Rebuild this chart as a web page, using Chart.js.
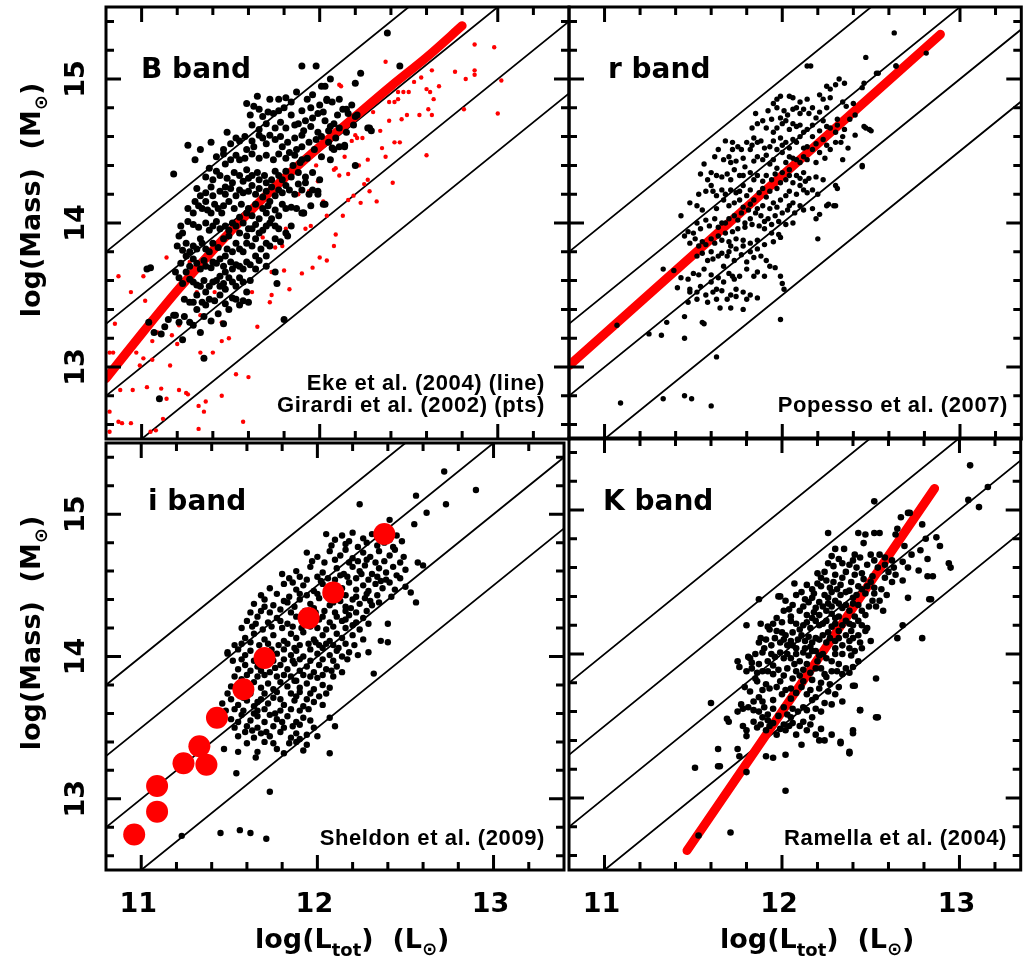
<!DOCTYPE html>
<html><head><meta charset="utf-8">
<script src="https://cdn.jsdelivr.net/npm/chart.js@4.4.0/dist/chart.umd.min.js"></script>
<style>
html,body{margin:0;padding:0;background:#fff;width:1024px;height:965px;overflow:hidden;}
canvas{position:absolute;}
</style></head><body>
<canvas id="pB"></canvas><canvas id="pR"></canvas><canvas id="pI"></canvas><canvas id="pK"></canvas>
<script>
// ---------- axis ticks ----------
const xMajorTicks = [11, 12, 13];
const xMinorTicks = [11.2,11.4,11.6,11.8,12.2,12.4,12.6,12.8,13.2];
const yMajorTicks = [13, 14, 15];
const yMinorTicks = [12.6,12.8,13.2,13.4,13.6,13.8,14.2,14.4,14.6,14.8,15.2,15.4];
const xTickLabels = ['11','12','13'];
const yTickLabels = ['13','14','15'];
// constant mass-to-light lines: log M = log L + offset
const mlOffsets = [3, 2.5, 2, 1.5];

// ---------- B band ----------
const bandBClusters = [
[12.23,15.04],[12.06,15.0],[12.03,14.95],[12.2,14.97],[11.96,14.89],[11.87,14.91],[11.81,14.87],[11.77,14.86],[11.72,14.86],[12.04,14.85],[12.07,14.84],[11.59,14.83],[11.63,14.81],[11.61,14.75],[11.68,14.74],[11.74,14.76],[11.77,14.78],[12.18,14.82],[12.16,14.76],[12.21,14.75],[11.99,14.76],[11.96,14.73],[11.92,14.71],[11.88,14.69],[11.86,14.68],[11.81,14.66],[12.03,14.71],[12.08,14.69],[12.11,14.66],[12.05,14.64],[12.01,14.6],[12.14,14.54],[12.11,14.53],[12.08,14.51],[12.28,14.66],[12.29,14.64],[11.48,14.63],[11.53,14.59],[11.55,14.57],[11.46,14.51],[11.26,14.54],[11.33,14.51],[11.39,14.56],[11.3,14.44],[11.18,14.34],[11.38,14.38],[11.42,14.36],[11.47,14.41],[11.55,14.44],[11.59,14.51],[11.63,14.53],[11.68,14.59],[11.72,14.61],[11.75,14.58],[11.79,14.53],[11.83,14.49],[11.87,14.51],[11.9,14.53],[11.94,14.56],[11.97,14.51],[11.93,14.45],[11.89,14.42],[11.85,14.4],[11.81,14.36],[11.77,14.33],[11.73,14.3],[11.7,14.28],[11.66,14.3],[11.62,14.33],[11.59,14.37],[11.55,14.33],[11.51,14.28],[11.47,14.25],[11.44,14.22],[11.4,14.19],[11.36,14.15],[11.33,14.19],[11.3,14.15],[11.32,14.12],[11.34,14.1],[11.39,14.07],[11.43,14.1],[11.46,14.12],[11.49,14.15],[11.53,14.19],[11.57,14.21],[11.6,14.22],[11.64,14.2],[11.68,14.18],[11.72,14.15],[11.75,14.19],[11.79,14.21],[11.83,14.23],[11.88,14.27],[11.92,14.28],[11.96,14.23],[11.99,14.2],[12.02,14.13],[11.91,14.07],[11.87,14.1],[11.81,14.1],[11.77,14.05],[11.73,14.03],[11.7,14.07],[11.66,14.03],[11.62,14.05],[11.59,14.07],[11.55,14.04],[11.51,14.0],[11.47,13.98],[11.44,13.96],[11.4,13.98],[11.36,14.0],[11.29,13.99],[11.23,13.93],[11.21,13.91],[11.25,13.86],[11.29,13.84],[11.33,13.89],[11.36,13.82],[11.4,13.86],[11.46,13.89],[11.49,13.91],[11.55,13.93],[11.59,13.91],[11.62,13.96],[11.66,13.93],[11.7,13.98],[11.75,13.98],[11.81,13.93],[11.82,13.91],[11.75,13.89],[11.7,13.86],[11.64,13.89],[11.59,13.86],[11.55,13.82],[11.51,13.8],[11.47,13.77],[11.44,13.75],[11.4,13.73],[11.36,13.7],[11.33,13.68],[11.29,13.75],[11.25,13.77],[11.19,13.66],[11.21,13.62],[11.25,13.66],[11.29,13.59],[11.33,13.56],[11.36,13.52],[11.4,13.59],[11.44,13.63],[11.47,13.66],[11.51,13.68],[11.55,13.7],[11.59,13.73],[11.64,13.68],[11.55,13.62],[11.51,13.59],[11.47,13.54],[11.44,13.56],[11.38,13.47],[11.34,13.45],[11.31,13.4],[11.27,13.45],[11.18,13.36],[11.21,13.31],[11.29,13.29],[11.33,13.24],[11.13,13.28],[11.11,13.23],[11.04,13.31],[11.55,13.43],[11.59,13.52],[11.53,13.47],[11.49,13.4],[11.64,13.77],[11.7,13.77],[11.75,13.66],[11.8,13.33],
[12.38,15.32],[12.45,15.09],[11.9,15.09],[11.98,15.09],[11.05,13.69],[11.1,12.78],[11.03,13.68],[11.07,13.24],[11.35,13.06],[11.23,13.19],[11.19,13.36],[11.76,13.58],[11.6,13.45],[11.91,14.07],[11.99,14.22],[12.01,14.95],[12.04,14.86],[12.11,14.86],[12.15,14.79],[12.2,14.74],[12.27,14.66],[12.14,14.53],[12.07,14.52],[12.2,14.4],[12.03,14.13],[11.9,14.07]
];
const bandBCore = [
[11.65,14.88],[11.84,14.84],[11.93,14.86],[12.0,14.82],
[11.66,14.79],[11.71,14.77],[11.8,14.8],[11.84,14.75],[11.9,14.78],[11.95,14.8],[12.02,14.77],[12.1,14.75],[12.13,14.79],
[11.62,14.68],[11.66,14.65],[11.7,14.69],[11.75,14.66],[11.78,14.7],[11.91,14.64],[11.95,14.67],[11.99,14.63],[12.06,14.67],[12.15,14.63],[12.19,14.68],
[11.5,14.55],[11.58,14.6],[11.62,14.57],[11.66,14.61],[11.7,14.55],[11.78,14.6],[11.82,14.56],[11.86,14.59],[11.9,14.61],[11.98,14.58],[12.05,14.56],[12.09,14.59],
[11.42,14.46],[11.46,14.48],[11.5,14.44],[11.53,14.47],[11.58,14.45],[11.62,14.48],[11.66,14.45],[11.7,14.47],[11.74,14.44],[11.77,14.48],[11.81,14.45],[11.86,14.47],[11.9,14.44],[12.01,14.46],[12.06,14.44],
[11.36,14.32],[11.4,14.3],[11.44,14.33],[11.48,14.31],[11.52,14.35],[11.57,14.29],[11.6,14.31],[11.65,14.35],[11.69,14.33],[11.75,14.36],[11.79,14.3],[11.84,14.32],[11.88,14.35],[11.92,14.32],[11.96,14.35],[12.0,14.3],
[11.31,14.24],[11.36,14.21],[11.39,14.25],[11.47,14.2],[11.5,14.24],[11.55,14.23],[11.62,14.26],[11.66,14.24],[11.7,14.22],[11.73,14.25],[11.77,14.23],[11.81,14.26],[11.86,14.2],[11.9,14.23],[11.94,14.2],
[11.26,14.1],[11.29,14.07],[11.37,14.09],[11.41,14.13],[11.45,14.07],[11.52,14.1],[11.56,14.13],[11.6,14.1],[11.64,14.13],[11.68,14.1],[11.71,14.12],[11.75,14.09],[11.79,14.13],[11.84,14.11],[11.95,14.12],
[11.22,13.98],[11.26,14.01],[11.32,13.97],[11.38,13.95],[11.42,14.01],[11.49,13.95],[11.53,13.98],[11.57,14.0],[11.6,13.96],[11.64,13.99],[11.68,13.95],[11.72,14.0],[11.77,13.96],[11.84,13.98],
[11.2,13.84],[11.23,13.81],[11.27,13.8],[11.31,13.82],[11.34,13.86],[11.38,13.8],[11.43,13.83],[11.48,13.82],[11.53,13.86],[11.57,13.8],[11.62,13.84],[11.67,13.82],[11.72,13.84],[11.78,13.87],
[11.22,13.72],[11.27,13.7],[11.31,13.72],[11.35,13.74],[11.39,13.69],[11.42,13.72],[11.46,13.7],[11.5,13.73],[11.53,13.71],[11.57,13.68],[11.61,13.71],[11.66,13.74],[11.7,13.7],
[11.23,13.58],[11.27,13.61],[11.31,13.57],[11.35,13.6],[11.38,13.56],[11.42,13.6],[11.46,13.58],[11.49,13.62],[11.53,13.56],[11.57,13.59],[11.61,13.6],
[11.24,13.47],[11.29,13.45],[11.31,13.5],[11.36,13.43],[11.41,13.46],[11.44,13.5],[11.47,13.44],[11.51,13.48],[11.57,13.46],
[11.15,13.33],[11.24,13.35],[11.27,13.31],[11.35,13.35],[11.39,13.32],[11.43,13.37],[11.46,13.3]
];
const bandBGirardi = [
[12.87,15.24],[12.98,15.22],[12.87,15.06],[12.87,15.03],[12.82,15.0],[12.76,15.05],[13.02,14.99],[12.81,14.79],[13.0,14.76],[12.6,14.93],[12.57,15.01],[12.63,15.06],[12.37,15.12],[12.12,14.95],[12.44,14.91],[12.47,14.91],[12.5,14.91],[12.62,14.91],[12.64,14.86],[12.67,14.95],[12.44,14.86],[12.39,14.84],[12.49,14.75],[12.56,14.75],[12.61,14.79],[12.63,14.75],[12.46,14.72],[12.39,14.71],[12.42,14.56],[12.45,14.56],[12.37,14.46],[12.6,14.47],[12.41,14.28],[12.32,14.15],[12.27,14.44],[12.22,14.4],[12.24,14.59],[12.2,14.61],[12.14,14.46],[12.09,14.38],[12.11,14.33],[12.16,14.34],[12.19,14.19],[12.25,14.27],[12.23,14.14],[11.98,14.4],[11.99,14.29],[11.94,14.22],[11.88,14.2],[12.04,14.05],[12.09,13.92],[12.08,13.84],[12.04,13.74],[11.92,13.96],[11.9,13.65],[11.81,13.96],[11.79,13.84],[11.75,13.83],[11.68,13.9],[11.73,13.66],[11.8,13.67],[11.62,13.52],[11.72,13.45],[11.65,13.28],[11.49,13.2],[11.45,13.31],[11.33,13.36],[11.31,13.52],[11.41,13.52],[11.51,13.59],[11.19,13.5],[11.21,13.29],[11.06,13.18],[11.01,13.63],[10.87,13.63],[10.94,13.52],[11.14,13.76],[11.27,13.73],[11.6,12.93],[11.53,12.95],[11.57,12.62],[11.45,12.8],[11.32,12.73],[11.36,12.76],[11.21,12.84],[11.25,12.82],[11.11,12.85],[11.14,12.78],[11.03,12.86],[10.95,12.84],[10.88,12.84],[10.82,12.69],[10.89,12.61],[10.94,12.61],[11.12,12.64],[11.05,12.55],[10.82,12.55],[10.97,13.1],[11.01,13.06],[11.06,13.05],[10.99,13.01],[11.16,13.01],[11.2,13.16],[11.17,13.22],[11.09,13.24],[10.84,13.1],[10.85,13.3],[11.02,13.46],[10.82,13.1],[10.87,12.62],[11.26,12.81],[11.33,13.1],[11.4,13.1],[11.45,13.18],[11.35,12.69],[11.32,12.57],[11.08,12.56],
[12.11,14.96],[12.42,14.84],[12.18,14.57],[12.21,14.59],[12.08,14.37],[12.28,14.22],[12.35,14.52],[12.27,14.3],[12.02,14.15],[11.95,13.98],[12.0,13.76],[11.96,13.69],[11.83,13.54],[11.73,13.5],[12.53,14.98],[12.3,14.77],[12.34,14.64],[12.16,14.16],[12.13,14.05]
];
const bandBEkeCurve = [[10.8,12.92],[11.0,13.23],[11.2,13.53],[11.4,13.81],[11.6,14.07],[11.8,14.31],[12.0,14.53],[12.2,14.74],[12.4,14.95],[12.6,15.15],[12.8,15.37]];

// ---------- r band ----------
const bandRClusters = [
[12.47,15.15],[12.14,15.09],[12.16,15.09],[12.64,15.09],[12.53,15.04],[12.46,14.97],[12.32,15.0],[12.35,14.97],[12.3,14.96],[12.25,14.95],[12.27,14.93],[12.21,14.89],[12.27,14.87],[12.34,14.84],[12.36,14.81],[12.4,14.83],[12.41,14.75],[12.38,14.72],[12.31,14.72],[12.23,14.86],[12.14,14.86],[12.1,14.84],[12.06,14.87],[12.04,14.88],[11.99,14.88],[11.95,14.83],[11.97,14.86],[12.01,14.78],[12.08,14.8],[12.12,14.79],[12.15,14.76],[12.19,14.73],[12.23,14.71],[12.27,14.66],[12.3,14.63],[12.34,14.6],[12.33,14.56],[12.37,14.52],[12.41,14.61],[12.46,14.67],[12.49,14.65],[12.45,14.39],[12.34,14.44],[12.27,14.51],[12.23,14.58],[12.17,14.6],[12.14,14.65],[12.1,14.68],[12.06,14.69],[12.02,14.71],[11.99,14.73],[11.94,14.72],[11.89,14.71],[11.85,14.76],[11.91,14.66],[11.95,14.63],[11.99,14.59],[12.02,14.56],[12.06,14.58],[12.1,14.6],[12.14,14.53],[12.17,14.51],[12.21,14.49],[12.12,14.46],[12.08,14.44],[12.04,14.46],[12.0,14.49],[11.97,14.51],[11.93,14.53],[11.88,14.57],[11.84,14.59],[11.8,14.56],[11.77,14.51],[11.82,14.51],[11.86,14.46],[11.89,14.44],[11.93,14.41],[11.97,14.38],[12.0,14.35],[12.04,14.37],[12.08,14.33],[12.12,14.35],[12.15,14.31],[12.17,14.23],[12.14,14.21],[12.1,14.26],[12.06,14.28],[12.02,14.3],[11.99,14.28],[11.94,14.3],[11.89,14.29],[11.86,14.33],[11.82,14.35],[11.79,14.39],[11.74,14.43],[11.71,14.42],[11.67,14.44],[11.64,14.51],[11.68,14.57],[11.72,14.51],[11.56,14.41],[11.54,14.34],[11.6,14.35],[11.63,14.33],[11.69,14.34],[11.73,14.37],[11.76,14.33],[11.78,14.26],[11.74,14.21],[11.71,14.23],[11.66,14.23],[11.63,14.19],[11.6,14.26],[11.57,14.22],[11.48,14.14],[11.52,14.12],[11.43,14.05],[11.67,14.16],[11.73,14.14],[11.76,14.16],[11.8,14.19],[11.84,14.16],[11.87,14.21],[11.91,14.18],[11.95,14.14],[11.99,14.16],[12.02,14.19],[12.06,14.14],[12.1,14.12],[12.07,14.07],[12.03,14.09],[12.0,14.07],[11.96,14.05],[11.92,14.03],[11.88,14.05],[11.85,14.07],[11.81,14.09],[11.77,14.07],[11.73,14.05],[11.7,14.03],[11.66,14.0],[11.62,14.03],[11.59,13.98],[11.54,13.96],[11.5,13.93],[11.47,13.94],[11.45,13.91],[11.48,13.86],[11.53,13.84],[11.57,13.85],[11.6,13.89],[11.64,13.91],[11.68,13.93],[11.72,13.94],[11.75,13.96],[11.79,13.97],[11.83,13.99],[11.87,13.98],[11.9,13.96],[11.94,13.93],[11.98,13.92],[11.99,13.9],[12.19,14.03],[12.3,14.26],[12.21,14.06],[12.26,14.13],[12.3,14.12],[12.2,13.89],
[11.71,13.84],[11.74,13.82],[11.78,13.84],[11.82,13.8],[11.86,13.82],[11.69,13.77],[11.73,13.74],[11.67,13.7],[11.61,13.75],[11.58,13.74],[11.56,13.68],[11.5,13.65],[11.47,13.61],[11.43,13.62],[11.41,13.55],[11.33,13.68],[11.39,13.67],[11.48,13.54],[11.54,13.56],[11.6,13.59],[11.63,13.54],[11.67,13.59],[11.73,13.61],[11.76,13.63],[11.8,13.68],[11.8,13.73],[11.74,13.54],[11.74,13.49],[11.69,13.47],[11.63,13.47],[11.58,13.45],[11.52,13.47],[11.47,13.45],[11.48,13.52],[11.8,13.47],[11.86,13.48],[11.78,13.4],[11.71,13.41],[11.65,13.41],[11.91,13.74],[11.93,13.7],[11.96,13.69],[11.9,13.63],[11.99,13.63],[12.0,13.58],[12.01,13.54],[11.99,13.33],[11.45,13.35],[11.56,13.3],[11.35,13.31],[11.32,13.22],
[12.63,15.32],[12.81,15.18],[12.64,15.09],[12.54,15.04],[12.45,14.94],[12.47,14.66],[12.5,14.64],[12.45,14.4],[12.31,14.24],[12.25,14.12],[12.29,14.12],[11.63,13.07],[11.45,13.2],[11.25,13.23],[11.07,13.29],[11.09,12.75],[11.33,12.78],[11.45,12.8],[11.49,12.78],[11.6,12.73],[11.55,13.31]
];
const bandRCore = [
[11.92,14.78],[11.97,14.8],[12.03,14.75],[12.06,14.79],[12.1,14.76],[12.17,14.8],[12.21,14.77],[12.25,14.8],
[11.83,14.66],[11.86,14.69],[11.97,14.66],[12.0,14.69],[12.04,14.65],[12.08,14.67],[12.12,14.63],[12.17,14.68],[12.21,14.64],[12.25,14.67],[12.31,14.68],[12.35,14.65],
[11.72,14.56],[11.75,14.53],[11.83,14.54],[11.86,14.56],[11.9,14.52],[11.95,14.57],[12.0,14.54],[12.04,14.52],[12.08,14.56],[12.12,14.52],[12.19,14.55],[12.25,14.54],[12.3,14.56],
[11.62,14.46],[11.7,14.46],[11.78,14.45],[11.84,14.43],[11.91,14.47],[11.95,14.44],[12.02,14.42],[12.06,14.45],[12.1,14.42],[12.14,14.44],[12.19,14.42],[12.24,14.45],
[11.58,14.3],[11.66,14.32],[11.71,14.3],[11.78,14.33],[11.84,14.3],[11.91,14.33],[11.96,14.34],[12.04,14.33],[12.1,14.31],[12.13,14.29],[12.19,14.32],[12.23,14.3],
[11.53,14.2],[11.61,14.22],[11.68,14.2],[11.76,14.22],[11.82,14.23],[11.89,14.24],[11.93,14.22],[11.97,14.24],[12.04,14.22],[12.08,14.2],[12.12,14.23],[12.2,14.2],
[11.55,14.09],[11.63,14.1],[11.7,14.12],[11.78,14.11],[11.82,14.13],[11.86,14.1],[11.89,14.12],[11.93,14.1],[11.97,14.11],[12.04,14.12],[12.12,14.09],[12.17,14.1],
[11.52,14.0],[11.57,14.02],[11.64,13.97],[11.68,14.0],[11.75,14.02],[11.79,14.0],[11.82,14.03],[11.9,14.01],[11.94,13.99],[11.98,14.01],[12.02,13.99],[12.06,14.0],
[11.51,13.89],[11.55,13.87],[11.62,13.86],[11.66,13.88],[11.7,13.87],[11.74,13.89],[11.78,13.88],[11.82,13.86],[11.86,13.88],[11.9,13.85],[11.95,13.87],
[11.52,13.77],[11.55,13.79],[11.6,13.8],[11.64,13.77],[11.66,13.79],[11.7,13.8],[11.77,13.78],[11.84,13.76],[11.88,13.77],
[11.53,13.64],[11.6,13.64],[11.64,13.62],[11.7,13.65],[11.72,13.63],[11.84,13.63],[11.86,13.66],
[11.52,13.52],[11.57,13.5],[11.61,13.52],[11.66,13.53],[11.71,13.5],[11.78,13.52],[11.82,13.5]
];
const bandRPopesso = [[10.8,13.01],[12.89,15.31]];

// ---------- i band ----------
const bandIClusters = [
[12.72,15.30],[12.90,15.17],[12.56,15.13],[12.73,15.07],[12.62,15.01],[12.55,14.93],[12.24,15.07],[12.41,14.96],[12.57,14.66],[12.60,14.64],[12.56,14.38],[12.40,14.23],[12.36,14.11],[12.40,14.10],[12.32,13.88],[12.29,14.03],[12.07,13.32],[12.10,13.51],[11.94,13.38],[11.88,13.40],[11.73,13.05],[11.65,13.29],[11.54,13.18],[11.55,13.33],[11.47,13.35],[11.23,12.74],[11.45,12.76],[11.56,12.78],[11.62,12.76],[11.71,12.72],[11.49,14.03],
[12.05,14.86],[12.10,14.82],[12.14,14.85],[12.18,14.81],[12.20,14.87],[12.26,14.83],[12.31,14.86],[12.41,14.82],[12.45,14.85],[12.48,14.81],
[11.94,14.73],[12.00,14.70],[12.07,14.74],[12.13,14.71],[12.16,14.75],[12.20,14.69],[12.26,14.73],[12.30,14.70],[12.35,14.74],[12.41,14.71],[12.44,14.75],[12.49,14.70],
[11.88,14.60],[11.96,14.63],[12.03,14.59],[12.11,14.62],[12.15,14.58],[12.20,14.63],[12.24,14.60],[12.27,14.64],[12.31,14.58],[12.35,14.62],[12.39,14.59],[12.43,14.63],[12.45,14.57],[12.50,14.61],
[11.73,14.48],[11.81,14.51],[11.88,14.47],[11.92,14.50],[11.98,14.46],[12.03,14.51],[12.14,14.48],[12.18,14.52],[12.22,14.47],[12.26,14.50],[12.29,14.46],[12.33,14.51],[12.37,14.48],[12.41,14.52],[12.44,14.47],[12.50,14.49],[12.53,14.45],
[11.64,14.37],[11.70,14.40],[11.75,14.36],[11.81,14.39],[11.87,14.35],[11.90,14.40],[11.96,14.37],[12.01,14.41],[12.07,14.36],[12.13,14.39],[12.16,14.35],[12.20,14.40],[12.24,14.37],[12.27,14.41],[12.31,14.36],[12.35,14.38],
[11.60,14.25],[11.66,14.28],[11.72,14.24],[11.77,14.27],[11.83,14.23],[11.88,14.28],[12.01,14.26],[12.07,14.24],[12.11,14.28],[12.14,14.25],[12.18,14.29],[12.22,14.24],[12.26,14.27],[12.29,14.23],
[11.59,14.13],[11.64,14.16],[11.70,14.12],[11.75,14.15],[11.81,14.11],[11.85,14.16],[11.88,14.13],[11.92,14.17],[11.98,14.12],[12.03,14.15],[12.07,14.11],[12.11,14.16],[12.14,14.13],[12.20,14.15],[12.26,14.12],
[11.49,14.02],[11.55,14.05],[11.59,14.01],[11.62,14.04],[11.77,14.02],[11.81,14.05],[11.85,14.01],[11.88,14.04],[11.92,14.00],[11.96,14.05],[12.00,14.02],[12.03,14.06],[12.07,14.01],[12.11,14.04],[12.14,14.00],[12.18,14.03],[12.23,14.01],
[11.55,13.91],[11.59,13.94],[11.62,13.90],[11.66,13.93],[11.73,13.89],[11.79,13.94],[11.83,13.91],[11.87,13.95],[11.90,13.90],[11.94,13.93],[11.98,13.89],[12.01,13.94],[12.05,13.91],[12.11,13.93],[12.14,13.89],
[11.51,13.79],[11.64,13.82],[11.68,13.78],[11.72,13.81],[11.75,13.77],[11.79,13.82],[11.83,13.79],[11.87,13.83],[11.90,13.78],[11.94,13.81],[11.98,13.77],[12.03,13.80],[12.07,13.78],
[11.46,13.67],[11.51,13.70],[11.55,13.66],[11.60,13.69],[11.64,13.65],[11.68,13.70],[11.72,13.67],[11.75,13.71],[11.81,13.66],[11.87,13.69],[11.92,13.65],[11.98,13.68],[12.03,13.66],
[11.51,13.56],[11.57,13.59],[11.62,13.55],[11.66,13.58],[11.70,13.54],[11.73,13.59],[11.77,13.56],[11.83,13.58],[11.88,13.54],[11.92,13.57],[11.96,13.55],[12.07,13.57],
[11.55,13.44],[11.59,13.47],[11.64,13.43],[11.68,13.46],[11.73,13.44],[11.79,13.47],[11.85,13.43],[11.88,13.46],[11.90,13.42],[11.94,13.45],[12.00,13.44],
[11.66,13.33],[11.77,13.35],[11.81,13.32],[11.92,13.34]
];
const bandICore = [
[12.08,14.78],[12.16,14.79],[12.23,14.77],[12.28,14.8],[12.34,14.78],[12.38,14.8],[12.43,14.77],
[11.97,14.67],[12.04,14.66],[12.1,14.68],[12.18,14.66],[12.23,14.67],[12.28,14.68],[12.33,14.66],[12.38,14.67],[12.47,14.66],
[11.84,14.55],[11.9,14.56],[11.94,14.54],[12.0,14.56],[12.06,14.55],[12.1,14.54],[12.17,14.56],[12.22,14.55],[12.29,14.54],[12.34,14.56],[12.39,14.54],[12.47,14.55],
[11.68,14.43],[11.77,14.44],[11.84,14.42],[11.9,14.44],[11.94,14.43],[12.0,14.44],[12.05,14.43],[12.1,14.44],[12.16,14.43],[12.22,14.42],[12.28,14.44],[12.34,14.43],[12.42,14.42],
[11.62,14.31],[11.68,14.32],[11.73,14.31],[11.79,14.33],[11.85,14.31],[11.93,14.32],[11.99,14.31],[12.04,14.32],[12.1,14.31],[12.16,14.32],[12.22,14.31],[12.28,14.32],
[11.57,14.2],[11.63,14.21],[11.69,14.19],[11.74,14.21],[11.8,14.2],[11.86,14.21],[11.91,14.2],[11.96,14.21],[12.0,14.2],[12.05,14.19],[12.09,14.21],[12.16,14.2],[12.24,14.19],
[11.53,14.08],[11.57,14.09],[11.67,14.08],[11.72,14.09],[11.78,14.08],[11.83,14.09],[11.9,14.08],[11.95,14.09],[12.01,14.08],[12.05,14.09],[12.09,14.08],[12.16,14.09],
[11.52,13.97],[11.57,13.98],[11.64,13.97],[11.7,13.98],[11.75,13.97],[11.81,13.98],[11.86,13.97],[11.9,13.98],[11.96,13.97],[12.03,13.98],[12.09,13.97],[12.17,13.98],
[11.53,13.86],[11.6,13.87],[11.66,13.86],[11.7,13.87],[11.77,13.86],[11.81,13.87],[11.85,13.86],[11.92,13.87],[11.96,13.86],[12.03,13.87],[12.09,13.86],
[11.49,13.74],[11.55,13.75],[11.62,13.74],[11.7,13.74],[11.77,13.75],[11.85,13.74],[11.9,13.75],[11.96,13.74],[12.05,13.74],
[11.48,13.62],[11.53,13.63],[11.58,13.62],[11.66,13.62],[11.7,13.63],[11.79,13.62],[11.85,13.63],[11.9,13.62],[11.95,13.63],
[11.53,13.5],[11.6,13.51],[11.66,13.5],[11.75,13.51],[11.81,13.5],[11.86,13.51],[11.98,13.5],
[11.6,13.39],[11.7,13.4],[11.75,13.39],[11.84,13.39]
];
const bandIDense = [
[11.8,14.58],[11.86,14.52],[12.02,14.53],[12.13,14.57],[12.25,14.58],[12.36,14.53],
[11.7,14.35],[11.83,14.38],[11.98,14.34],[12.09,14.38],[12.19,14.34],[12.3,14.39],
[11.65,14.23],[11.79,14.25],[11.95,14.26],[12.03,14.28],[12.16,14.26],[12.2,14.22],
[11.62,14.1],[11.74,14.05],[11.87,14.06],[11.99,14.1],[12.12,14.06],[12.21,14.08],
[11.57,13.84],[11.68,13.9],[11.76,13.92],[11.88,13.83],[12.0,13.85],[12.08,13.9],
[11.58,13.71],[11.66,13.68],[11.79,13.7],[11.88,13.72],[11.94,13.7],[12.01,13.72],
[11.55,13.54],[11.64,13.6],[11.76,13.6],[11.8,13.54],[11.9,13.52],[11.63,13.48],[11.71,13.47]
];
const bandISheldon = [[10.96,12.75],[11.09,12.91],[11.09,13.09],[11.24,13.25],[11.33,13.37],[11.37,13.24],[11.43,13.57],[11.58,13.77],[11.70,13.99],[11.95,14.27],[12.09,14.45],[12.38,14.86]];

// ---------- K band ----------
const bandKClusters = [
[12.67,14.95],[12.72,14.98],[12.79,14.9],[12.65,14.87],[12.26,14.84],[12.43,14.84],[12.47,14.83],[12.52,14.84],[12.55,14.84],[12.46,14.77],[12.64,14.83],[12.69,14.75],[12.81,14.8],[12.87,14.81],[12.89,14.75],[12.78,14.72],[12.73,14.69],[12.68,14.64],[12.62,14.65],[12.55,14.69],[12.5,14.69],[12.41,14.69],[12.35,14.73],[12.3,14.73],[12.28,14.68],[12.26,14.63],[12.29,14.61],[12.34,14.63],[12.38,14.62],[12.42,14.6],[12.45,14.56],[12.48,14.62],[12.51,14.54],[12.54,14.6],[12.58,14.62],[12.6,14.57],[12.64,14.55],[12.68,14.51],[12.71,14.6],[12.77,14.58],[12.82,14.66],[12.82,14.54],[12.85,14.54],[12.94,14.63],[12.95,14.6],[12.71,14.39],[12.84,14.38],
[12.24,14.57],[12.2,14.56],[12.25,14.51],[12.29,14.5],[12.34,14.53],[12.39,14.5],[12.43,14.47],[12.48,14.47],[12.52,14.46],[12.56,14.45],[12.55,14.37],[12.51,14.37],[12.53,14.33],[12.57,14.3],[12.47,14.27],[12.43,14.34],[12.4,14.39],[12.36,14.43],[12.31,14.45],[12.27,14.46],[12.22,14.47],[12.17,14.45],[12.14,14.48],[12.07,14.49],[11.99,14.4],[12.13,14.38],[12.17,14.39],[12.21,14.36],[12.26,14.35],[12.3,14.37],[12.34,14.32],[12.38,14.3],[12.41,14.26],[12.43,14.23],[12.4,14.2],[12.36,14.23],[12.32,14.26],[12.28,14.28],[12.25,14.3],[12.21,14.27],[12.17,14.25],[12.14,14.27],[12.1,14.3],[12.04,14.31],[12.01,14.3],[12.12,14.2],[12.16,14.18],[12.21,14.2],[12.25,14.23],[12.28,14.19],[12.32,14.16],[12.36,14.13],[12.4,14.11],[12.43,14.13],[12.47,14.16],[12.48,14.18],[12.5,14.09],[12.45,14.04],[12.41,14.02],[12.38,14.04],[12.34,14.06],[12.3,14.09],[12.27,14.11],[12.23,14.13],[12.19,14.11],[12.15,14.12],[12.11,14.13],[12.06,14.15],[12.02,14.13],[11.97,14.16],[11.92,14.19],[11.88,14.11],[11.94,14.06],[11.99,14.08],[12.03,14.06],[12.08,14.04],[12.13,14.04],[12.17,14.02],[12.21,13.99],[12.25,13.97],[12.28,13.95],[12.32,13.93],[12.36,13.9],[12.4,13.91],[12.43,13.95],[12.34,13.86],[12.28,13.88],[12.24,13.86],[12.19,13.9],[12.14,13.93],[12.1,13.95],[12.05,13.97],[12.01,13.97],[11.96,13.98],[11.92,13.95],[11.87,13.93],[11.82,13.97],[11.8,14.2],[11.88,14.21],[11.97,14.25],[12.02,14.37],[12.08,14.41],
[11.76,13.91],[11.83,13.9],[11.89,13.88],[11.95,13.86],[12.01,13.85],[12.06,13.83],[12.12,13.81],[12.17,13.82],[12.22,13.8],[12.27,13.79],[12.32,13.77],[12.4,13.78],[12.53,13.83],[11.86,13.81],[11.91,13.79],[11.97,13.77],[12.02,13.75],[12.08,13.73],[12.14,13.72],[12.19,13.7],[12.24,13.66],[12.28,13.65],[12.34,13.67],[12.0,13.72],[11.95,13.68],[11.89,13.67],[11.84,13.67],[11.77,13.65],[11.75,13.6],[11.81,13.63],[11.87,13.6],[11.92,13.58],[11.98,13.57],[12.03,13.58],[12.09,13.6],[12.14,13.61],[12.17,13.56],[12.12,13.53],[12.06,13.52],[12.01,13.51],[11.95,13.52],[11.89,13.56],[11.84,13.53],[11.8,13.47],[11.86,13.49],[11.91,13.47],[11.97,13.44],[12.02,13.47],[12.08,13.44],[12.14,13.47],[12.19,13.44],[12.24,13.4],[12.28,13.44],[12.33,13.39],[12.4,13.47],[12.44,13.61],[12.53,13.56],[12.41,13.78],[11.7,13.53],[11.64,13.34],[11.75,13.34],[11.76,13.29],[11.8,13.43],[11.91,13.29],[11.95,13.28],[12.02,13.3],[12.11,13.37],[12.21,13.4],[12.38,13.31],[11.8,13.18],[11.64,13.22],[11.51,13.21],[11.6,13.66],[11.69,13.55],[12.02,13.05],[11.81,13.98],[11.93,14.17],[11.87,14.08],
[13.06,15.31],[13.11,15.02],[13.05,15.07],[13.16,15.16],[12.52,15.06],[12.71,14.98],[12.79,14.11],[12.65,14.11],[12.83,14.38],[12.68,14.2],[12.54,13.56],[12.44,13.61],[12.4,13.45],[12.38,13.32],[12.33,13.38],[11.71,12.76],[11.53,12.74],[11.65,13.22],[11.87,14.38],[11.98,14.4],[11.75,13.95]
];
const bandKCore = [
[12.32,14.66],[12.4,14.65],[12.44,14.67],[12.52,14.65],[12.58,14.67],[12.63,14.6],
[12.22,14.53],[12.3,14.55],[12.36,14.57],[12.41,14.55],[12.46,14.52],[12.5,14.5],[12.58,14.53],[12.62,14.5],
[12.11,14.43],[12.18,14.42],[12.24,14.41],[12.28,14.43],[12.33,14.41],[12.38,14.44],[12.42,14.41],[12.47,14.42],[12.52,14.42],[12.59,14.41],
[12.06,14.34],[12.12,14.33],[12.19,14.32],[12.23,14.33],[12.28,14.33],[12.32,14.35],[12.36,14.34],[12.45,14.3],[12.49,14.33],
[11.95,14.21],[12.0,14.22],[12.05,14.23],[12.08,14.21],[12.14,14.22],[12.19,14.23],[12.23,14.21],[12.3,14.21],[12.34,14.2],[12.38,14.21],[12.45,14.2],
[11.91,14.1],[11.96,14.11],[12.01,14.1],[12.05,14.09],[12.09,14.1],[12.13,14.09],[12.17,14.08],[12.21,14.1],[12.25,14.08],[12.32,14.11],[12.38,14.09],[12.44,14.08],
[11.85,14.0],[11.89,14.01],[11.94,14.0],[11.99,14.01],[12.03,14.0],[12.08,14.0],[12.12,14.01],[12.15,13.99],[12.19,14.02],[12.23,14.0],[12.3,14.0],[12.34,14.0],[12.39,13.99],
[11.8,13.88],[11.86,13.87],[11.92,13.88],[11.98,13.89],[12.03,13.9],[12.08,13.88],[12.12,13.89],[12.16,13.87],[12.22,13.9],[12.31,13.88],[12.38,13.87],
[11.79,13.77],[11.82,13.74],[11.89,13.75],[11.93,13.76],[12.05,13.76],[12.11,13.77],[12.16,13.75],[12.21,13.76],[12.26,13.74],[12.3,13.72],
[11.78,13.62],[11.84,13.61],[11.9,13.63],[11.95,13.62],[12.01,13.63],[12.06,13.62],[12.12,13.63],[12.19,13.62],[12.22,13.6],
[11.78,13.5],[11.88,13.51],[11.93,13.5],[11.99,13.48],[12.04,13.5],[12.1,13.5],[12.16,13.51],[12.22,13.48]
];
const bandKDense = [
[12.2,14.49],[12.33,14.48],[12.45,14.45],[12.15,14.36],[12.26,14.39],[12.4,14.35],[12.05,14.26],[12.18,14.29],[12.3,14.25],[12.0,14.15],[12.1,14.17],[12.26,14.15],[12.39,14.16],[11.9,14.04],[12.06,14.06],[12.16,14.05],[12.3,14.04],[11.83,13.94],[11.95,13.92],[12.07,13.93],[12.2,13.95],[11.85,13.83],[11.99,13.81],[12.1,13.85],[12.25,13.84],[11.87,13.7],[12.05,13.69],[12.17,13.68],[11.92,13.54],[12.05,13.56]
];
const bandKRamella = [[11.465,12.635],[12.86,15.15]];

// ---------- text ----------
const panelNames = ['B band','r band','i band','K band'];
const refNotes = {
  B: ['Eke et al. (2004) (line)', 'Girardi et al. (2002) (pts)'],
  R: ['Popesso et al. (2007)'],
  I: ['Sheldon et al. (2009)'],
  K: ['Ramella et al. (2004)']
};

// ---------- helpers ----------
const X_MIN = 10.8, Y_MIN = 12.5, Y_MAX = 15.5;
const BIG = 'bold 27px "DejaVu Sans"';
const NAME = 'bold 28px "DejaVu Sans"';
const SUB = 'bold 18px "DejaVu Sans"';
const NOTE = 'bold 22px "Liberation Sans"';
const toPts = arr => arr.map(p => ({x: p[0], y: p[1]}));

function dots(arr, color, r, order) {
  return {data: toPts(arr), showLine: false, pointRadius: r, pointHoverRadius: r,
          pointBackgroundColor: color, pointBorderWidth: 0, pointBorderColor: color, order, clip: 0};
}
function line(arr, color, w, order, tension) {
  return {data: toPts(arr), showLine: true, borderColor: color, borderWidth: w, pointRadius: 0,
          pointHoverRadius: 0, borderCapStyle: 'round', borderJoinStyle: 'round', tension: tension || 0, order, clip: 0};
}
function mlLines() {
  return mlOffsets.map(c => line([[X_MIN, X_MIN + c], [13.4, 13.4 + c]], '#000', 1.8, 10));
}

function drawRich(ctx, pieces, x, y, align) {
  let total = 0;
  pieces.forEach(p => { ctx.font = p.font; total += ctx.measureText(p.t).width; });
  let cx = align === 'center' ? x - total / 2 : (align === 'right' ? x - total : x);
  ctx.textAlign = 'left'; ctx.textBaseline = 'alphabetic';
  pieces.forEach(p => { ctx.font = p.font; ctx.fillText(p.t, cx, y + (p.dy || 0)); cx += ctx.measureText(p.t).width; });
}

function decoPlugin(cfg) {
  return {
    id: 'deco' + cfg.key,
    afterDatasetsDraw(chart) {
      const {ctx, chartArea: a, scales: {x, y}} = chart;
      ctx.save();
      ctx.strokeStyle = '#000'; ctx.fillStyle = '#000'; ctx.lineWidth = 3; ctx.lineCap = 'butt';
      const MAJ = 15, MIN = 8;
      ctx.beginPath();
      const seg = (x1, y1, x2, y2) => { ctx.moveTo(x1, y1); ctx.lineTo(x2, y2); };
      const xt = (v, len) => { const p = x.getPixelForValue(v); if (p <= a.left + 1 || p >= a.right - 1) return; seg(p, a.bottom, p, a.bottom - len); seg(p, a.top, p, a.top + len); };
      const yt = (v, len) => { const p = y.getPixelForValue(v); if (p <= a.top + 1 || p >= a.bottom - 1) return; seg(a.left, p, a.left + len, p); seg(a.right, p, a.right - len, p); };
      xMajorTicks.forEach(v => xt(v, MAJ)); xMinorTicks.forEach(v => xt(v, MIN));
      yMajorTicks.forEach(v => yt(v, MAJ)); yMinorTicks.forEach(v => yt(v, MIN));
      ctx.stroke();
      ctx.strokeRect(a.left, a.top, a.right - a.left, a.bottom - a.top);

      ctx.font = NAME; ctx.textAlign = 'left'; ctx.textBaseline = 'alphabetic';
      ctx.fillText(cfg.name, cfg.nameX, cfg.nameY);
      ctx.font = NOTE; ctx.textAlign = 'right';
      try { ctx.letterSpacing = '0.6px'; } catch (e) {}
      cfg.notes.forEach((t, i) => ctx.fillText(t, cfg.noteX, cfg.noteY - (cfg.notes.length - 1 - i) * 22));
      try { ctx.letterSpacing = '0px'; } catch (e) {}

      if (cfg.yLabels) {
        yMajorTicks.forEach((v, i) => {
          const p = y.getPixelForValue(v);
          ctx.save(); ctx.translate(84, p); ctx.rotate(-Math.PI / 2);
          ctx.font = BIG; ctx.textAlign = 'center'; ctx.fillText(yTickLabels[i], 0, 0); ctx.restore();
        });
        ctx.save(); ctx.translate(40, cfg.yTitleC); ctx.rotate(-Math.PI / 2);
        drawRich(ctx, [{t: 'log(Mass)  (M', font: BIG}, {t: '\u2299', font: SUB, dy: 7}, {t: ')', font: BIG}], 0, 0, 'center');
        ctx.restore();
      }
      if (cfg.xLabels) {
        ctx.font = BIG; ctx.textAlign = 'center';
        xMajorTicks.forEach((v, i) => {
          const p = x.getPixelForValue(v);
          if (p < chart.width - 5) ctx.fillText(xTickLabels[i], p - 3, cfg.xLabY);
        });
        drawRich(ctx, [{t: 'log(L', font: BIG}, {t: 'tot', font: SUB, dy: 8}, {t: ')  (L', font: BIG}, {t: '\u2299', font: SUB, dy: 7}, {t: ')', font: BIG}], cfg.xTitleX, cfg.xTitleY, 'left');
      }
      ctx.restore();
    }
  };
}

function makePanel(id, left, top, w, h, pad, xMax, datasets, cfg) {
  const cv = document.getElementById(id);
  cv.width = w; cv.height = h;
  cv.style.left = left + 'px'; cv.style.top = top + 'px';
  cv.style.width = w + 'px'; cv.style.height = h + 'px';
  return new Chart(cv, {
    type: 'scatter',
    data: {datasets},
    options: {
      responsive: false, animation: false, devicePixelRatio: 1, events: [],
      layout: {padding: pad},
      plugins: {legend: {display: false}, tooltip: {enabled: false}, title: {display: false}},
      scales: {
        x: {type: 'linear', min: X_MIN, max: xMax, display: false},
        y: {type: 'linear', min: Y_MIN, max: Y_MAX, display: false}
      }
    },
    plugins: [decoPlugin(cfg)]
  });
}

makePanel('pB', 0, 0, 575, 445, {left: 106, top: 7, right: 6, bottom: 6}, 13.4, [
  dots(bandBClusters, '#000', 3.5, 1),
  dots(bandBCore, '#000', 3.5, 1),
  line(bandBEkeCurve, '#ff0000', 9, 2, 0.3),
  dots(bandBGirardi, '#ff0000', 2.2, 3),
  ...mlLines()
], {key: 'B', name: panelNames[0], nameX: 141, nameY: 78, notes: refNotes.B, noteX: 545, noteY: 412,
    yLabels: true, yTitleC: 200, xLabels: false});

makePanel('pR', 565, 0, 459, 445, {left: 4, top: 7, right: 2, bottom: 6}, 13.345, [
  dots(bandRClusters, '#000', 2.7, 1),
  dots(bandRCore, '#000', 2.7, 1),
  line(bandRPopesso, '#ff0000', 9, 2),
  ...mlLines()
], {key: 'R', name: panelNames[1], nameX: 43, nameY: 78, notes: refNotes.R, noteX: 443, noteY: 412,
    yLabels: false, xLabels: false});

makePanel('pI', 0, 432, 575, 533, {left: 106, top: 6, right: 6, bottom: 95}, 13.4, [
  dots(bandISheldon, '#ff0000', 11, 0),
  dots(bandIClusters, '#000', 3.2, 1),
  dots(bandICore, '#000', 3.2, 1),
  dots(bandIDense, '#000', 3.2, 1),
  ...mlLines()
], {key: 'I', name: panelNames[2], nameX: 148, nameY: 78, notes: refNotes.I, noteX: 545, noteY: 413,
    yLabels: true, yTitleC: 201, xLabels: true, xLabY: 480, xTitleX: 255, xTitleY: 516});

makePanel('pK', 565, 432, 459, 533, {left: 4, top: 6, right: 2, bottom: 95}, 13.345, [
  dots(bandKClusters, '#000', 3.3, 1),
  dots(bandKCore, '#000', 3.3, 1),
  dots(bandKDense, '#000', 3.3, 1),
  line(bandKRamella, '#ff0000', 9, 2),
  ...mlLines()
], {key: 'K', name: panelNames[3], nameX: 38, nameY: 78, notes: refNotes.K, noteX: 442, noteY: 413,
    yLabels: false, xLabels: true, xLabY: 480, xTitleX: 155, xTitleY: 516});
</script>
</body></html>
